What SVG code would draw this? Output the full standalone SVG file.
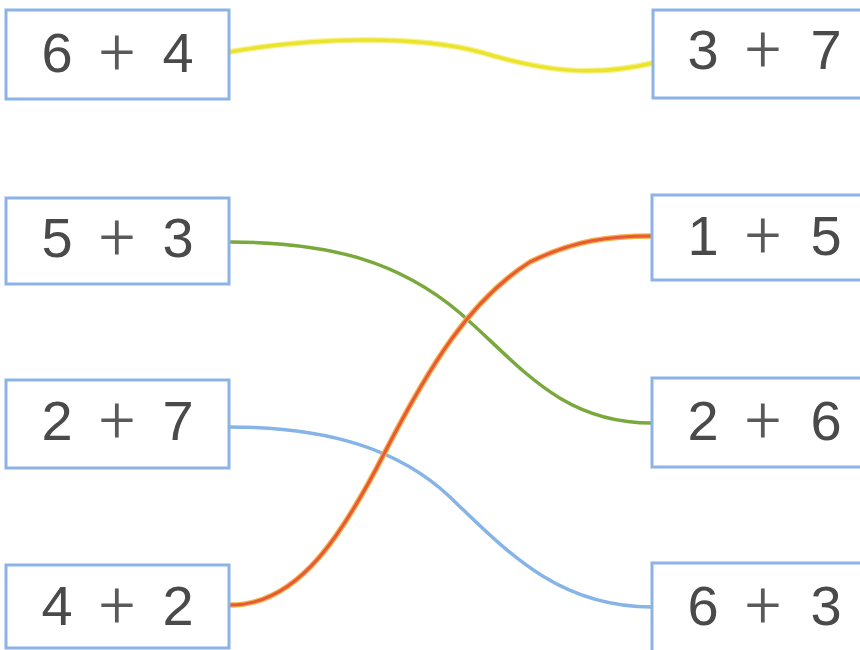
<svg xmlns="http://www.w3.org/2000/svg" width="860" height="650" viewBox="0 0 860 650">
<style>
.box{fill:#fff;stroke:#8db3e6;stroke-width:3}
.t{font-family:"Liberation Sans",Arial,sans-serif;font-size:56px;fill:#4a4a4a;text-anchor:middle}
.p{font-family:Roboto,"Liberation Sans",sans-serif;font-size:64px;fill:#5a5a5a;text-anchor:middle;font-weight:300}
.c{fill:none;stroke-linecap:round}
</style>
<rect width="860" height="650" fill="#fff"/>
<g id="connectors">
<path class="c" d="M229,52 C320,36 420,36 480,52 C540,70 590,78 653,63" stroke="#f6f290" stroke-width="6"/>
<path class="c" d="M229,52 C320,36 420,36 480,52 C540,70 590,78 653,63" stroke="#ece42c" stroke-width="3.5"/>
<path class="c" d="M231,242 C330,242 400,262 460,313 C520,365 560,423 652,423" stroke="#79a83c" stroke-width="3.5"/>
<path class="c" d="M229,427 C330,427 400,450 450,497 C510,555 560,607 652,607" stroke="#86b4e6" stroke-width="3.5"/>
<path class="c" d="M231,605 C300,605 345,530 385,452 C430,365 470,300 530,262 C575,240 610,236 652,236" stroke="#f7b040" stroke-width="5.5"/>
<path class="c" d="M231,605 C300,605 345,530 385,452 C430,365 470,300 530,262 C575,240 610,236 652,236" stroke="#e8583a" stroke-width="3"/>
</g>
<g id="L1"><rect class="box" x="6" y="10" width="223" height="89"/><text class="t" x="57" y="72">6</text><text class="p" x="117" y="74">+</text><text class="t" x="178" y="72">4</text></g>
<g id="L2"><rect class="box" x="6" y="198" width="223" height="86"/><text class="t" x="57" y="257">5</text><text class="p" x="117" y="259">+</text><text class="t" x="178" y="257">3</text></g>
<g id="L3"><rect class="box" x="6" y="380" width="223" height="88"/><text class="t" x="57" y="440">2</text><text class="p" x="117" y="442">+</text><text class="t" x="178" y="440">7</text></g>
<g id="L4"><rect class="box" x="6" y="565" width="223" height="83"/><text class="t" x="57" y="625">4</text><text class="p" x="117" y="627">+</text><text class="t" x="178" y="625">2</text></g>
<g id="R1"><rect class="box" x="653" y="10" width="223" height="88"/><text class="t" x="703" y="69">3</text><text class="p" x="763" y="71">+</text><text class="t" x="826" y="69">7</text></g>
<g id="R2"><rect class="box" x="652" y="195" width="223" height="85"/><text class="t" x="703" y="255">1</text><text class="p" x="763" y="257">+</text><text class="t" x="826" y="255">5</text></g>
<g id="R3"><rect class="box" x="652" y="378" width="223" height="89"/><text class="t" x="703" y="440">2</text><text class="p" x="763" y="442">+</text><text class="t" x="826" y="440">6</text></g>
<g id="R4"><rect class="box" x="652" y="563" width="223" height="90"/><text class="t" x="703" y="625">6</text><text class="p" x="763" y="627">+</text><text class="t" x="826" y="625">3</text></g>
</svg>
